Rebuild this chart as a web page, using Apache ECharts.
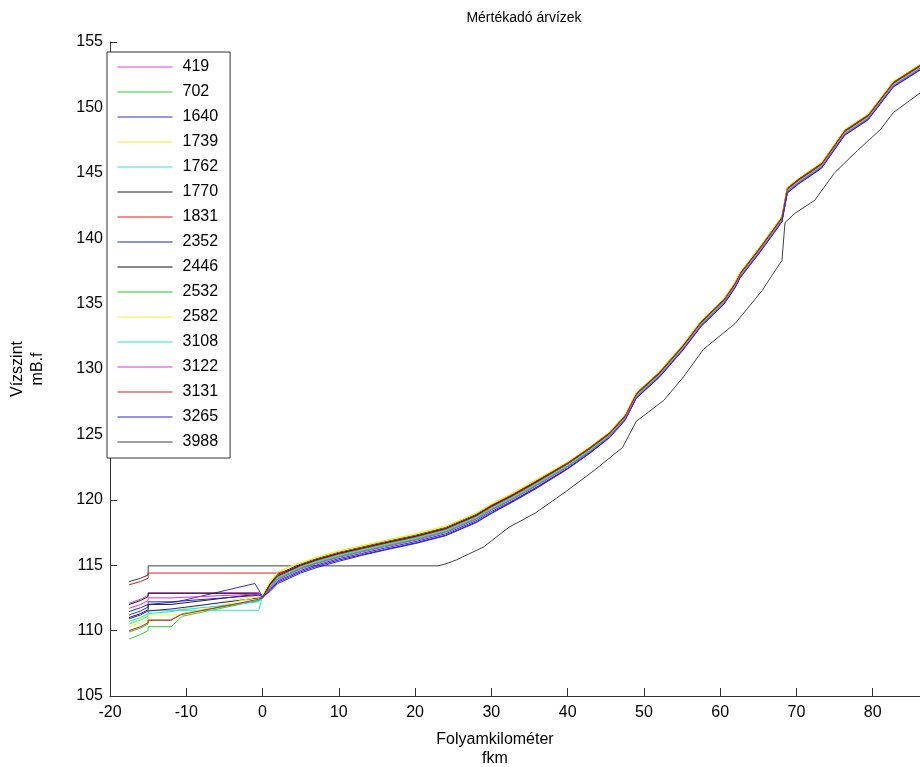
<!DOCTYPE html>
<html>
<head>
<meta charset="utf-8">
<script src="https://cdn.jsdelivr.net/npm/echarts@6/dist/echarts.min.js"></script>
<style>html,body{margin:0;padding:0;background:#fff;}#c{width:920px;height:767px;}</style>
</head>
<body>
<div id="c"></div>
<script>
// ---- data ----
const seriesNames = ['419','702','1640','1739','1762','1770','1831','2352','2446','2532','2582','3108','3122','3131','3265','3988'];
const seriesColors = ['#e040e0','#30cc30','#3030c8','#f0f020','#30e0e0','#202020','#d82020','#2020c0','#101010','#20c820','#f0f030','#20dede','#e030e0','#d02020','#2828c0','#404040'];

// shared river-km positions for the main (upstream) reach
const kmMain = [1,2,3.5,5,7,10,13,16,20,24,28,30,33,36,40,43,45.5,47.5,49,52,55,57.5,60.5,62,62.6,65,67.5,68.1,68.8,70.3,73.3,76.3,79.4,82.7,86.2];

// lower reach (km -17.5 .. 0) per flood, [km, level]
const left419  = [[-17.5,112.1],[-16,112.4],[-15,112.7],[-15,112.9],[-0.5,112.9],[0,112.5]];
const left702  = [[-17.5,109.35],[-16,109.7],[-15,110.0],[-15,110.3],[-12,110.3],[-10.5,111.1],[-0.5,112.3],[0,112.5]];
const left1640 = [[-17.5,111.2],[-16,111.5],[-15,111.8],[-15,112.0],[-11.2,112.2],[-1,113.6],[0,112.6]];
const left1739 = [[-17.5,110.6],[-16,110.9],[-15,111.2],[-15,111.5],[-12,111.5],[-0.5,112.7],[0,112.6]];
const left1762 = [[-17.5,110.5],[-16,110.8],[-15,111.1],[-15,111.55],[-0.5,111.55],[0,112.6]];
const left1770 = [[-17.5,111.0],[-16,111.3],[-15,111.6],[-15,112.0],[-12,112.0],[-0.5,112.8],[0,112.6]];
const left1831 = [[-17.5,113.5],[-16,113.75],[-15,114.0],[-15,114.4]];
const left2352 = [[-17.5,110.9],[-16,111.2],[-15,111.5],[-15,111.65],[-12,111.65],[-0.5,112.5],[0,112.5]];
const left2446 = [[-17.5,112.0],[-16,112.3],[-15,112.6],[-15,112.85],[-0.5,112.85],[0,112.6]];
const left2532 = [[-17.5,109.9],[-16,110.2],[-15,110.5],[-15,110.8],[-12,110.8],[-10.5,111.3],[-0.5,112.3],[0,112.5]];
const left2582 = [[-17.5,110.3],[-16,110.6],[-15,110.9],[-15,111.2],[-11,111.2],[-0.5,112.6],[0,112.7]];
const left3108 = [[-17.5,110.7],[-16,111.0],[-15,111.3],[-15,111.45],[-12,111.45],[-10.5,111.6],[-0.5,112.2],[0,112.5]];
const left3122 = [[-17.5,111.7],[-16,112.0],[-15,112.3],[-15,112.5],[-12,112.5],[-0.5,112.8],[0,112.6]];
const left3131 = [[-17.5,110.0],[-16,110.3],[-15,110.6],[-15,110.8],[-12,110.8],[-10.8,111.2],[-0.5,112.4],[0,112.5]];
const left3265 = [[-17.5,111.45],[-16,111.75],[-15,112.0],[-15,112.2],[-12,112.2],[-0.5,112.7],[0,112.6]];

// levels on kmMain per flood
const main419  = [113.5,114.2,114.6,115.0,115.4,115.9,116.3,116.7,117.2,117.8,118.8,119.5,120.4,121.4,122.8,124.0,125.1,126.4,128.1,129.7,131.7,133.6,135.3,136.6,137.3,139.1,141.1,141.6,143.8,144.5,145.7,148.2,149.4,151.9,153.2];
const main702  = [113.4,114.0,114.4,114.8,115.2,115.7,116.1,116.5,117.0,117.6,118.6,119.3,120.2,121.2,122.6,123.8,124.9,126.2,127.9,129.5,131.5,133.4,135.1,136.4,137.1,138.9,140.9,141.4,143.6,144.3,145.5,148.0,149.2,151.7,153.0];
const main1640 = [113.2,113.8,114.2,114.6,115.0,115.5,115.9,116.3,116.8,117.4,118.4,119.1,120.0,121.0,122.4,123.6,124.8,126.1,127.8,129.4,131.4,133.3,135.0,136.3,137.0,138.8,140.8,141.3,143.5,144.2,145.4,147.9,149.1,151.6,152.9];
const main1739 = [113.7,114.4,114.9,115.2,115.6,116.1,116.5,116.9,117.4,118.0,119.0,119.7,120.6,121.6,122.9,124.1,125.2,126.5,128.2,129.8,131.8,133.7,135.4,136.7,137.4,139.2,141.2,141.7,143.9,144.6,145.8,148.3,149.5,152.0,153.3];
const main1762 = [113.5,114.1,114.5,114.9,115.3,115.8,116.2,116.6,117.1,117.7,118.7,119.4,120.3,121.3,122.7,123.9,125.0,126.3,128.0,129.6,131.6,133.5,135.2,136.5,137.2,139.0,141.0,141.5,143.7,144.4,145.6,148.1,149.3,151.8,153.1];
const main1770 = [113.6,114.3,114.7,115.1,115.5,116.0,116.4,116.8,117.3,117.9,118.9,119.6,120.5,121.5,122.85,124.05,125.15,126.45,128.15,129.75,131.75,133.65,135.35,136.65,137.35,139.15,141.15,141.65,143.85,144.55,145.75,148.25,149.45,151.95,153.25];
const main1831 = [114.4,114.4,114.6,115.0,115.4,115.9,116.3,116.7,117.2,117.8,118.8,119.55,120.45,121.45,122.8,124.0,125.1,126.4,128.1,129.7,131.7,133.6,135.3,136.6,137.3,139.1,141.1,141.6,143.8,144.5,145.7,148.2,149.4,151.9,153.2];
const main2352 = [113.1,113.7,114.1,114.5,114.9,115.4,115.8,116.2,116.7,117.3,118.3,119.0,119.95,120.95,122.4,123.65,124.8,126.1,127.8,129.4,131.4,133.3,135.0,136.3,137.0,138.8,140.8,141.3,143.5,144.2,145.4,147.9,149.1,151.6,152.9];
const main2446 = [113.55,114.2,114.6,115.0,115.4,115.9,116.3,116.7,117.2,117.8,118.8,119.5,120.4,121.4,122.75,123.95,125.05,126.35,128.05,129.65,131.65,133.55,135.25,136.55,137.25,139.05,141.05,141.55,143.75,144.45,145.65,148.15,149.35,151.85,153.15];
const main2532 = [113.3,113.95,114.35,114.75,115.15,115.65,116.05,116.45,116.95,117.55,118.55,119.25,120.15,121.15,122.55,123.75,124.85,126.15,127.85,129.45,131.45,133.35,135.05,136.35,137.05,138.85,140.85,141.35,143.55,144.25,145.45,147.95,149.15,151.65,152.95];
const main2582 = [113.8,114.5,114.85,115.15,115.55,116.05,116.45,116.85,117.35,117.95,118.95,119.65,120.55,121.55,122.9,124.1,125.2,126.5,128.2,129.8,131.8,133.7,135.4,136.7,137.4,139.2,141.2,141.7,143.9,144.6,145.8,148.3,149.5,152.0,153.3];
const main3108 = [113.4,114.05,114.45,114.85,115.25,115.75,116.15,116.55,117.05,117.65,118.65,119.35,120.25,121.25,122.65,123.85,124.95,126.25,127.95,129.55,131.55,133.45,135.15,136.45,137.15,138.95,140.95,141.45,143.65,144.35,145.55,148.05,149.25,151.75,153.05];
const main3122 = [113.3,113.9,114.3,114.7,115.1,115.6,116.0,116.4,116.9,117.5,118.5,119.2,120.1,121.1,122.5,123.7,124.85,126.15,127.85,129.45,131.45,133.35,135.05,136.35,137.05,138.85,140.85,141.35,143.55,144.25,145.45,147.95,149.15,151.65,152.95];
const main3131 = [113.5,114.15,114.55,114.95,115.35,115.85,116.25,116.65,117.15,117.75,118.75,119.45,120.35,121.35,122.75,123.95,125.05,126.35,128.05,129.65,131.65,133.55,135.25,136.55,137.25,139.05,141.05,141.55,143.75,144.45,145.65,148.15,149.35,151.85,153.15];
const main3265 = [113.0,113.6,114.0,114.4,114.8,115.3,115.75,116.15,116.65,117.25,118.25,118.95,119.9,120.9,122.35,123.6,124.75,126.05,127.75,129.35,131.35,133.25,134.95,136.25,136.95,138.75,140.75,141.25,143.45,144.15,145.35,147.85,149.05,151.55,152.85];

// flood 3988 has its own profile
const km3988    = [-17.5,-16,-15,-15,23,24,25.4,29,32.3,35.8,39.7,43.6,47.2,49,52.6,55.2,57.8,62,65.5,68.1,68.5,69.8,72.4,75,78,81,82.7,86.2];
const level3988 = [113.75,114.0,114.25,114.95,114.95,115.1,115.4,116.4,117.9,119.0,120.6,122.3,124.0,126.0,127.6,129.4,131.5,133.5,136.0,138.3,141.2,141.9,142.9,145.0,146.7,148.3,149.6,151.1];

const xTicks = [-20,-10,0,10,20,30,40,50,60,70,80];

// ---- build ----
const lefts = [left419,left702,left1640,left1739,left1762,left1770,left1831,left2352,left2446,left2532,left2582,left3108,left3122,left3131,left3265];
const mains = [main419,main702,main1640,main1739,main1762,main1770,main1831,main2352,main2446,main2532,main2582,main3108,main3122,main3131,main3265];

const series = [];
for (let i = 0; i < 15; i++) {
  const d = lefts[i].slice();
  kmMain.forEach((k, j) => d.push([k, mains[i][j]]));
  series.push({ name: seriesNames[i], type: 'line', data: d, symbol: 'none', showSymbol: false,
    lineStyle: { width: 1, color: seriesColors[i] }, itemStyle: { color: seriesColors[i] }, z: 2 + i });
}
series.push({ name: seriesNames[15], type: 'line', data: km3988.map((k, j) => [k, level3988[j]]), symbol: 'none', showSymbol: false,
  lineStyle: { width: 1, color: seriesColors[15] }, itemStyle: { color: seriesColors[15] }, z: 1 });

const font = '"Liberation Sans", Arial, sans-serif';
const chart = echarts.init(document.getElementById('c'), null, { renderer: 'canvas' });
chart.setOption({
  animation: false,
  backgroundColor: '#fff',
  textStyle: { fontFamily: font },
  title: [
    { text: 'Mértékadó árvízek', left: 519, top: 6, textAlign: 'center',
      textStyle: { fontFamily: font, fontSize: 14, fontWeight: 'normal', color: '#000' } },
    { text: 'Folyamkilométer', left: 490, top: 727, textAlign: 'center',
      textStyle: { fontFamily: font, fontSize: 16, fontWeight: 'normal', color: '#000' } },
    { text: 'fkm', left: 490, top: 746, textAlign: 'center',
      textStyle: { fontFamily: font, fontSize: 16, fontWeight: 'normal', color: '#000' } }
  ],
  grid: { left: 99, top: 42, right: 0, bottom: 71, containLabel: false },
  legend: {
    orient: 'vertical', left: 107, top: 52,
    data: seriesNames,
    backgroundColor: '#fff', borderColor: '#333', borderWidth: 1,
    padding: [6, 12, 7, 10],
    itemWidth: 55, itemHeight: 18, itemGap: 7,
    itemStyle: { opacity: 0 },
    lineStyle: { width: 1 },
    textStyle: { fontFamily: font, fontSize: 16, color: '#000', lineHeight: 18, padding: [0, 0, 0, 5] }
  },
  xAxis: {
    type: 'value', min: -20, max: 86.2, interval: 10,
    axisLine: { show: true, onZero: false, lineStyle: { color: '#333', width: 1 } },
    axisTick: { show: true, inside: true, length: 8, lineStyle: { color: '#333' }, customValues: xTicks },
    axisLabel: { fontFamily: font, fontSize: 16, color: '#000', margin: 9, customValues: xTicks },
    splitLine: { show: false }
  },
  yAxis: {
    type: 'value', min: 105, max: 155, interval: 5,
    name: 'Vízszint\nmB.f', nameLocation: 'middle', nameRotate: 90, nameGap: 62,
    nameTextStyle: { fontFamily: font, fontSize: 16, color: '#000', lineHeight: 20 },
    axisLine: { show: true, onZero: false, lineStyle: { color: '#333', width: 1 } },
    axisTick: { show: true, inside: true, length: 7, lineStyle: { color: '#333' } },
    axisLabel: { fontFamily: font, fontSize: 16, color: '#000', margin: 7 },
    splitLine: { show: false }
  },
  series: series
});
</script>
</body>
</html>
